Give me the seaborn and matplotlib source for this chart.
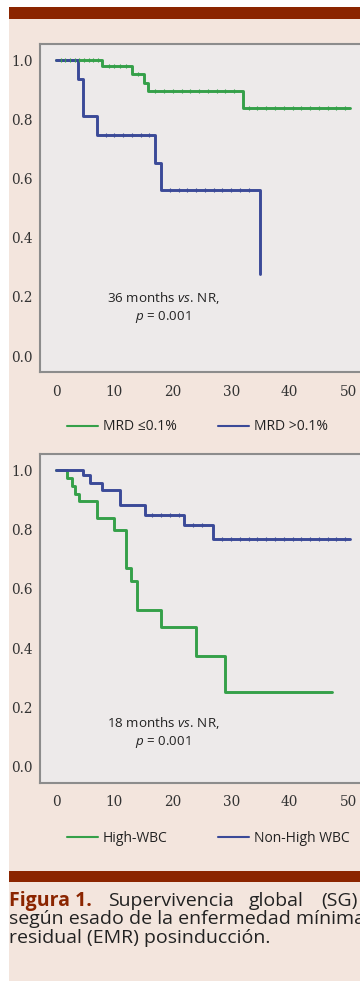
import numpy as np
import pandas as pd
import seaborn as sns
import matplotlib.pyplot as plt
from matplotlib.lines import Line2D
from matplotlib.patches import Rectangle

# survival curves (time in months, survival proportion)
# top panel: MRD after induction
mrd_low_t = [0, 7.8, 13.0, 15.0, 15.8, 32.0, 50.3]
mrd_low_s = [1.0, 0.98, 0.955, 0.923, 0.896, 0.839, 0.839]
mrd_low_cens = [0.8, 1.6, 2.4, 3.2, 4.0, 4.8, 5.6, 6.4, 7.2, 9.0, 10.0, 11.0, 12.0, 14.0,
                17.0, 18.5, 20.0, 21.5, 23.0, 24.5, 26.0, 27.5, 29.0, 30.5, 33.0, 34.5,
                36.0, 37.5, 39.0, 40.5, 42.0, 43.5, 45.0, 46.5, 48.0, 49.5]
mrd_high_t = [0, 3.8, 4.7, 7.0, 17.0, 17.9, 34.9]
mrd_high_s = [1.0, 0.935, 0.811, 0.747, 0.653, 0.561, 0.279]
mrd_high_cens = [8.5, 10.0, 11.5, 13.0, 14.5, 16.0, 19.5, 21.0, 22.5, 24.0, 25.5,
                 27.0, 28.5, 30.0, 31.5, 33.0]

# bottom panel: WBC at diagnosis
wbc_high_t = [0, 1.8, 2.7, 3.3, 4.0, 7.0, 10.0, 11.9, 12.8, 13.8, 18.0, 24.0, 28.9, 47.2]
wbc_high_s = [1.0, 0.974, 0.947, 0.921, 0.895, 0.84, 0.80, 0.67, 0.627, 0.53, 0.47,
              0.375, 0.253, 0.253]
wbc_high_cens = []
wbc_low_t = [0, 4.7, 5.8, 7.8, 11.0, 15.2, 21.9, 26.9, 50.3]
wbc_low_s = [1.0, 0.983, 0.957, 0.935, 0.882, 0.85, 0.817, 0.768, 0.768]
wbc_low_cens = [16.5, 18.0, 19.5, 21.0, 23.5, 25.0, 28.5, 30.0, 31.5, 33.0, 34.5, 36.0,
                37.5, 39.0, 40.5, 42.0, 43.5, 45.0, 46.5, 48.0, 49.5]

top_labels = ["MRD \u22640.1%", "MRD >0.1%"]
bottom_labels = ["High-WBC", "Non-High WBC"]
top_note = ["36 months $\\mathit{vs.}\\,$NR,", "$p$ = 0.001"]
bottom_note = ["18 months $\\mathit{vs.}\\,$NR,", "$p$ = 0.001"]
x_ticks = [0, 10, 20, 30, 40, 50]
y_ticks = [0.0, 0.2, 0.4, 0.6, 0.8, 1.0]

green = "#35a049"
blue = "#3b4a98"
beige = "#f3e5dd"
darkred = "#8b2500"

sns.set_theme(style="white")
plt.rcParams["font.family"] = ["Open Sans", "DejaVu Sans"]
plt.rcParams["mathtext.fontset"] = "custom"
plt.rcParams["mathtext.rm"] = "Open Sans"
plt.rcParams["mathtext.it"] = "Open Sans:italic"

W, H = 360, 981
fig = plt.figure(figsize=(W / 100, H / 100), dpi=100)
fig.patch.set_facecolor("white")

# page background and the red rules
for (x0, y0, w, h, c) in [(9, 19, W, H, beige), (9, 7, W, 12, darkred),
                          (9, 870.5, W, 11.5, darkred)]:
    fig.patches.append(Rectangle((x0 / W, 1 - (y0 + h) / H), w / W, h / H,
                                 transform=fig.transFigure, facecolor=c,
                                 edgecolor="none", zorder=-10))


def km_panel(ax, curves, note, note_y):
    for t, s, cens, col in curves:
        df = pd.DataFrame({"time": t, "surv": s})
        sns.lineplot(data=df, x="time", y="surv", color=col, lw=2.1,
                     drawstyle="steps-post", estimator=None, ax=ax)
        if cens:
            idx = np.searchsorted(t, cens, side="right") - 1
            sns.scatterplot(x=cens, y=np.array(s)[idx], marker="|", s=7,
                            color=col, linewidth=0.8, ax=ax, zorder=3)
    ax.set_facecolor("#edeaea")
    ax.set_xlim(-2.74, 53.08)
    ax.set_ylim(-0.054, 1.055)
    ax.set_xticks(x_ticks)
    ax.set_yticks(y_ticks)
    ax.set_yticklabels([f"{v:.1f}" for v in y_ticks])
    ax.set_xlabel("")
    ax.set_ylabel("")
    for side in ["top", "left", "bottom"]:
        ax.spines[side].set_color("#8c8c8c")
        ax.spines[side].set_linewidth(1.5)
    ax.spines["right"].set_visible(False)
    ax.tick_params(axis="both", length=3, width=1, color="#8c8c8c",
                   labelcolor="#333333", labelsize=9.8)
    ax.tick_params(axis="x", pad=6)
    ax.tick_params(axis="y", pad=2)
    for lab in ax.get_xticklabels() + ax.get_yticklabels():
        lab.set_family("DejaVu Serif")
    ax.text(18.3, note_y[0], note[0], ha="center", va="center", fontsize=9.6, color="#222222")
    ax.text(18.3, note_y[1], note[1], ha="center", va="center", fontsize=9.6, color="#222222")


def legend_pair(labels, y):
    for lab, col, x0 in zip(labels, [green, blue], [67, 218]):
        h = Line2D([], [], color=col, lw=1.5)
        fig.legend(handles=[h], labels=[lab], loc="center left",
                   bbox_to_anchor=(x0 / W, 1 - y / H), frameon=False,
                   borderpad=0, borderaxespad=0, handlelength=2.2,
                   handletextpad=0.4, fontsize=10, labelcolor="#222222")


ax1 = fig.add_axes([40 / W, (H - 372) / H, 326 / W, 328 / H])
km_panel(ax1, [(mrd_low_t, mrd_low_s, mrd_low_cens, green),
               (mrd_high_t, mrd_high_s, mrd_high_cens, blue)],
         top_note, [0.196, 0.132])
legend_pair(top_labels, 427)

ax2 = fig.add_axes([40 / W, (H - 782.7) / H, 326 / W, 328.7 / H])
km_panel(ax2, [(wbc_high_t, wbc_high_s, wbc_high_cens, green),
               (wbc_low_t, wbc_low_s, wbc_low_cens, blue)],
         bottom_note, [0.148, 0.084])
legend_pair(bottom_labels, 838)

# caption (first line is justified in the original)
cap_size = 14.0
fig.text(9 / W, 1 - 906 / H, "Figura 1.", color=darkred, fontweight="bold",
         fontsize=cap_size, va="baseline")
for word, x0 in [("Supervivencia", 108), ("global", 249), ("(SG)", 321)]:
    fig.text(x0 / W, 1 - 906 / H, word, color="#222222", fontsize=cap_size, va="baseline")
fig.text(9 / W, 1 - 924.5 / H, "según esado de la enfermedad mínima", color="#222222",
         fontsize=cap_size, va="baseline")
fig.text(9 / W, 1 - 943 / H, "residual (EMR) posinducción.", color="#222222",
         fontsize=cap_size, va="baseline")

fig.savefig("out.png", dpi=100)
